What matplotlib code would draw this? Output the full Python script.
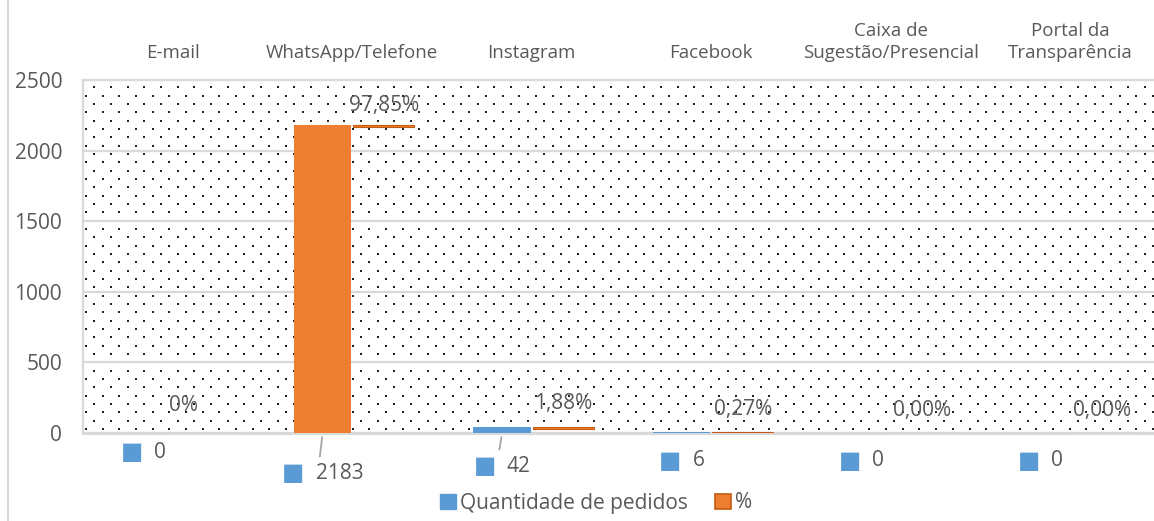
import numpy as np
import matplotlib
matplotlib.use("Agg")
import matplotlib.pyplot as plt
from matplotlib.lines import Line2D
from matplotlib.patches import Patch
from matplotlib.offsetbox import TextArea, HPacker, AnnotationBbox

# data
categories = ["E-mail", "WhatsApp/Telefone", "Instagram", "Facebook",
              "Caixa de\nSugestão/Presencial", "Portal da\nTransparência"]
quantidade = [0, 2183, 42, 6, 0, 0]
percent_labels = ["0%", "97,85%", "1,88%", "0,27%", "0,00%", "0,00%"]
qty_labels = ["0", "2183", "42", "6", "0", "0"]

BLUE = "#5B9BD5"
ORANGE = "#ED7D31"
DARK_ORANGE = "#C55A11"
GRID = "#D9D9D9"
TXT = "#595959"

plt.rcParams["font.family"] = ["Open Sans", "DejaVu Sans"]

W, H = 1154, 521
fig = plt.figure(figsize=(W / 100, H / 100), dpi=100)
ax = fig.add_axes([83 / W, 1 - 433 / H, 1077 / W, 353 / H])

x = np.arange(len(categories))
bw = 0.32
xq = x - bw / 2 - 0.005
xp = x + bw / 2 + 0.015

# dotted background pattern (Excel 5% fill)
ax_w, ax_h = 1077, 353
pts_x, pts_y = [], []
row = 0
yy = 4.0
while yy < ax_h:
    off = 0 if row % 2 == 0 else 8.33
    xx = 3.0 + off
    while xx < ax_w:
        pts_x.append(xx / ax_w)
        pts_y.append(yy / ax_h)
        xx += 16.67
    yy += 8.33
    row += 1
ax.scatter(pts_x, pts_y, s=1.2, marker="s", color="#222222", linewidths=0,
           transform=ax.transAxes, zorder=1)

# first series (WhatsApp point highlighted in orange, as in the original)
bar_colors = [ORANGE if q > 1000 else BLUE for q in quantidade]
ax.bar(xq, quantidade, width=bw, color=bar_colors, zorder=3)

# second series shown as thin caps at the level of the quantity
cap = 14
ax.bar(xp, [cap if q > 0 else 0 for q in quantidade], width=0.34,
       bottom=[q - cap if q > 0 else 0 for q in quantidade],
       color=ORANGE, edgecolor=DARK_ORANGE, linewidth=0.8, zorder=3)

ax.set_xlim(-0.5, len(categories) - 0.5)
ax.set_ylim(0, 2500)
ax.set_yticks([0, 500, 1000, 1500, 2000, 2500])
ax.yaxis.grid(True, color=GRID, linewidth=1.6, zorder=2)
for s in ax.spines.values():
    s.set_color(GRID)
    s.set_linewidth(1.6)
ax.spines["bottom"].set_linewidth(2.2)
ax.tick_params(axis="y", length=0, pad=15, labelsize=15, labelcolor=TXT)

ax.xaxis.tick_top()
ax.set_xticks(x, categories)
ax.tick_params(axis="x", length=0, pad=13, labelsize=13.5, labelcolor=TXT)
for t in ax.get_xticklabels():
    t.set_linespacing(1.25)

# percentage labels above the second series
pct_dx = [-15, 0, 0, 0, 0, 0]
pct_dy = [20, 14, 17, 16, 16, 16]
for i, lab in enumerate(percent_labels):
    ax.annotate(lab, (xp[i], quantidade[i]), xytext=(pct_dx[i], pct_dy[i]),
                textcoords="offset points", ha="center", va="center",
                fontsize=15, color=TXT, zorder=5)

# quantity labels below the axis, with legend key, centred under the bar
qty_dy = [-14, -29, -24, -20, -20, -20]
for i, lab in enumerate(qty_labels):
    key = TextArea("\u25A0", textprops=dict(color=BLUE, fontsize=17, family="DejaVu Sans"))
    txt = TextArea(lab, textprops=dict(color=TXT, fontsize=15))
    box = HPacker(children=[key, txt], align="center", pad=0, sep=8)
    ab = AnnotationBbox(box, (xq[i], 0), xybox=(0, qty_dy[i]), xycoords="data",
                        boxcoords="offset points", frameon=False,
                        box_alignment=(0.5, 0.5), annotation_clip=False)
    ax.add_artist(ab)

# leader lines for the big labels
for i in (1, 2):
    ax.annotate("", (xq[i], 0), xytext=(-2, qty_dy[i] + 12), textcoords="offset points",
                arrowprops=dict(arrowstyle="-", color="#A6A6A6", lw=1.3,
                                shrinkA=0, shrinkB=3),
                annotation_clip=False)

# legend
handles = [Patch(facecolor=BLUE, edgecolor=BLUE, label="Quantidade de pedidos"),
           Patch(facecolor=ORANGE, edgecolor=DARK_ORANGE, linewidth=1.2, label="%")]
fig.legend(handles=handles, loc="center", bbox_to_anchor=(596 / W, 1 - 503 / H),
           ncol=2, frameon=False, fontsize=15, labelcolor=TXT,
           handlelength=0.75, handleheight=0.75, handletextpad=0.2, columnspacing=1.3)

# chart area border on the left
fig.add_artist(Line2D([8 / W, 8 / W], [0, 1], color=GRID, linewidth=1.5,
                      transform=fig.transFigure))

fig.savefig("out.png", dpi=100)
